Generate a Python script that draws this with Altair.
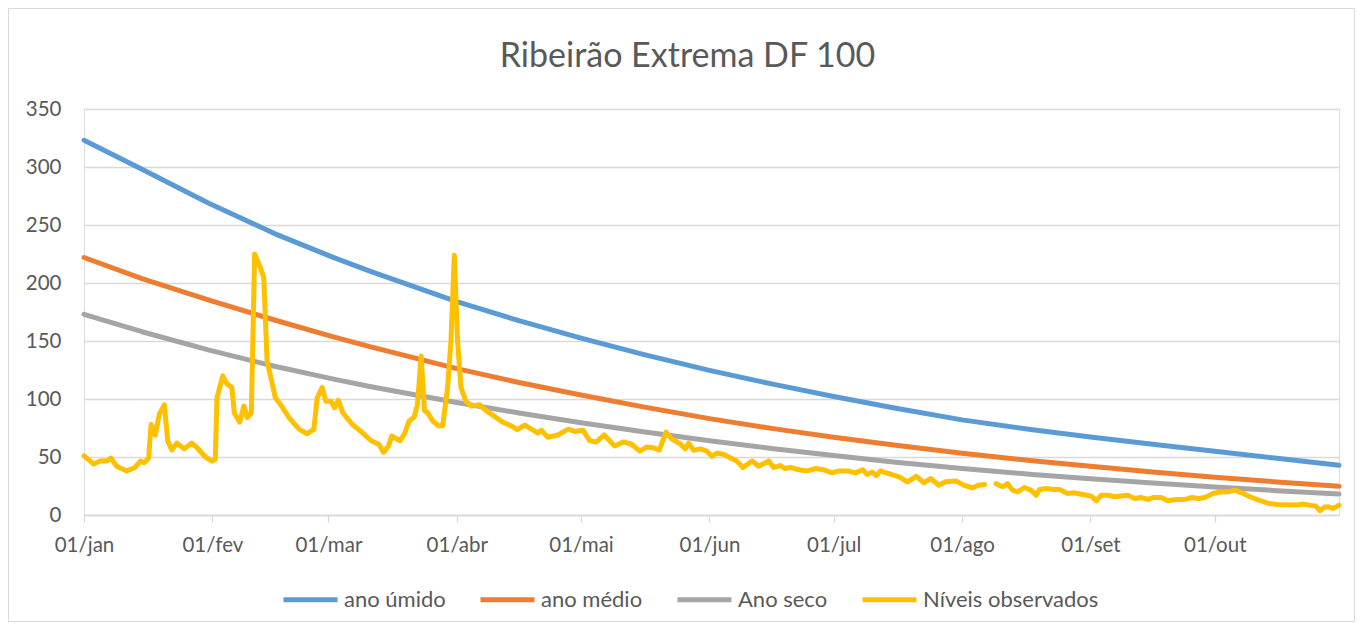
import json
import altair as alt
import pandas as pd

TITLE = "Ribeirão Extrema DF 100"
SERIES = ["ano úmido", "ano médio", "Ano seco", "Níveis observados"]
COLORS = ["#5B9BD5", "#ED7D31", "#A5A5A5", "#FFC000"]
MONTH_START_DAYS = [0, 31, 59, 90, 120, 151, 181, 212, 243, 273]
MONTH_LABELS = ["01/jan", "01/fev", "01/mar", "01/abr", "01/mai",
                "01/jun", "01/jul", "01/ago", "01/set", "01/out"]
LAST_DAY = 303
Y_TICKS = [0, 50, 100, 150, 200, 250, 300, 350]

# reference curves (day of year counted from 01/jan = 0)
curve_days = [0, 14, 30, 46, 60, 69, 90, 105, 120, 135, 151, 166, 181, 196,
              212, 229, 243, 258, 273, 288, 303]
ano_umido = [323, 298, 269, 242.6, 222.3, 210.2, 184, 167.5, 152.5, 138.5, 124.7,
             113, 102.2, 92, 82, 73.5, 67.2, 60.9, 54.9, 48.9, 42.9]
ano_medio = [222, 203.8, 185.4, 168.1, 153.8, 145.1, 126.2, 114.2, 103.4, 93.2, 83.1,
             74.7, 67.1, 60.1, 53.2, 46.7, 42, 37, 32.5, 28.5, 24.8]
ano_seco = [173, 158, 142.3, 128.2, 117.3, 110.8, 97, 88, 79.6, 71.8, 64,
            57.3, 51.2, 45.4, 40, 35, 31.2, 27.5, 24.2, 21, 18]

# observed levels (None = missing data)
obs_days = [0, 2.3, 3.9, 5.5, 6.5, 7.9, 10.3, 12.3, 13.6, 14.5, 15.6, 16.2, 17.2,
            18.2, 19.4, 20.2, 21.2, 22.4, 24.2, 26, 27.3, 29.3, 30.9, 31.7, 32.1,
            33.5, 34.5, 35.7, 36.3, 37.6, 38.6, 39.4, 40.4, 41.2, 42.5, 43.4,
            44.2, 46.2, 47.5, 49.5, 51.9, 53.9, 55.5, 56.3, 57.5, 58.4, 59.6,
            60.5, 61.4, 62.5, 64.8, 67.2, 69.3, 71.2, 72.3, 73.5, 74.3, 76.3,
            77.3, 78.5, 79.7, 80.5, 81.4, 82.2, 83, 84.2, 85.6, 86.6, 87.8, 88.6,
            89.4, 90.2, 91, 92.2, 93.5, 95.5, 97.1, 99.1, 101.1, 103.1, 104.6,
            106.4, 108, 109.6, 110.4, 112, 114.4, 116.9, 118.5, 120.5, 122.1,
            123.7, 125.6, 126.9, 128.1, 130.2, 132.2, 134.2, 135.8, 137.4, 138.9,
            140.5, 141.9, 143.9, 145.2, 146, 147.2, 148.8, 150.4, 151.6, 152.8,
            154.4, 156, 157.6, 159.1, 161.3, 162.9, 165.3, 166.5, 168.1, 169.3,
            170.5, 172.6, 174.6, 176.6, 178.6, 180.6, 182.2, 184.3, 186.3, 188,
            189.1, 190.3, 191.3, 192.3, 194.3, 196.8, 198.8, 201, 202.8, 204.4,
            206.4, 208, 210.5, 212.5, 214.5, 216.1, 217.4, 219,
            220.2, 221.8, 223, 224.2, 225.4, 227, 228.6, 229.9, 230.7, 232.3,
            233.9, 235.5, 237.5, 239.1, 241.1, 243.2, 244.4, 245.6, 247.2, 248.8,
            250.4, 252, 253.7, 255.3, 256.9, 258.1, 260.1, 261.7, 263.7, 265.8,
            267.4, 269, 270.6, 272.6, 274.6, 276.3, 277.9, 279.5, 281.5, 284,
            286, 288, 290.4, 292.9, 294.5, 296.1, 297.4, 298.4, 299.4, 300.4,
            301.5, 302.4, 303]
obs_values = [51, 44, 46.5, 46.5, 49, 42, 38, 41, 46.5, 45, 49, 78, 69,
              87, 95, 64, 56, 62, 57, 62, 58, 50, 46.5, 48, 101,
              120, 113, 110, 88, 80, 94, 84, 88, 225, 214, 204.6,
              133, 101, 95, 84, 74, 70, 74, 101, 110, 98, 98,
              92.5, 99, 88, 78, 71, 64, 61, 54, 59.5, 68, 64,
              69.5, 81, 84.5, 95, 137, 90, 88, 81, 77, 77, 110, 150,
              224, 150, 110, 98, 94, 95, 90, 85, 80, 77, 73.5,
              77.5, 74, 70.7, 73, 67, 69, 74, 72, 73, 64,
              63, 69, 64, 59.5, 63, 61, 55, 58.6, 58, 56,
              71.4, 65.7, 61.4, 57, 62, 55.7, 57, 55, 50.6, 53.4,
              52.3, 49.4, 46.6, 40.9, 46.6, 42, 46.6, 41, 42.6, 40,
              41, 39, 38, 40, 39, 36.3, 38, 38, 36.3, 39,
              35, 37, 34, 38, 35.7, 32.9, 28.6, 33.4, 27.7, 31.4,
              25.7, 28.6, 29.4, 25.5, 23.5, 25.7, 26.3, None,
              27, 24.3, 27, 21.4, 20, 23.7, 21.4, 17, 22, 22.9,
              22, 22, 18.6, 19.1, 17.7, 16.3, 12.3, 17, 17, 15.7,
              16.3, 17, 14.3, 15, 13.4, 15, 15, 12.3, 13.4, 13.4,
              15, 14.3, 15, 18.6, 20, 20, 21.4, 19.1, 15.7, 12.3,
              10, 9.1, 8.9, 8.6, 9.4, 8.3, 7.7, 3.7, 6.6, 7.1,
              5.7, 7.1, 8.6]

# ---- tables -------------------------------------------------------------
rows = []
for name, vals in zip(SERIES[:3], [ano_umido, ano_medio, ano_seco]):
    for d, v in zip(curve_days, vals):
        rows.append({"day": d, "value": v, "series": name, "seg": name})
curves = pd.DataFrame(rows)

orows = []
seg = 0
for d, v in zip(obs_days, obs_values):
    if v is None:
        seg += 1
        continue
    orows.append({"day": d, "value": v, "series": SERIES[3], "seg": f"obs{seg}"})
observed = pd.DataFrame(orows)

FONT = "Lato"
TEXT = "#595959"
GRID = "#D9D9D9"
W, H = 1255, 406
PAD = {"left": 76, "top": 101, "right": 16, "bottom": 107}
LINE_W = 5

label_expr = ("indexof(" + json.dumps(MONTH_START_DAYS) + ", datum.value) >= 0 ? "
              + json.dumps(MONTH_LABELS, ensure_ascii=False)
              + "[indexof(" + json.dumps(MONTH_START_DAYS) + ", datum.value)] : ''")

x_enc = alt.X(
    "day:Q",
    scale=alt.Scale(domain=[0, LAST_DAY], nice=False, zero=False),
    axis=alt.Axis(
        title=None, values=MONTH_START_DAYS, labelExpr=label_expr, grid=False,
        domainColor=GRID, domainWidth=1.3, tickColor=GRID, tickWidth=1.3, tickSize=7,
        labelFont=FONT, labelFontSize=20.5, labelColor=TEXT, labelPadding=13,
        labelFlush=False, labelOverlap=False,
    ),
)
y_enc = alt.Y(
    "value:Q",
    scale=alt.Scale(domain=[0, 350], nice=False),
    axis=alt.Axis(
        title=None, values=Y_TICKS, grid=True, gridColor=GRID, gridWidth=1.3,
        domain=False, ticks=False, tickSize=0, labelPadding=23,
        labelFont=FONT, labelFontSize=20.5, labelColor=TEXT,
    ),
)
color_enc = alt.Color(
    "series:N",
    scale=alt.Scale(domain=SERIES, range=COLORS),
    legend=alt.Legend(
        title=None, orient="none", legendX=197, legendY=461, direction="horizontal",
        symbolType="stroke", symbolSize=2916, symbolStrokeWidth=LINE_W,
        labelFont=FONT, labelFontSize=22, labelColor=TEXT, labelOffset=4,
        labelLimit=400, columnPadding=24, padding=0,
    ),
)

curve_layer = alt.Chart(curves).mark_line(
    strokeWidth=LINE_W, strokeCap="round", strokeJoin="round"
).encode(x=x_enc, y=y_enc, color=color_enc, detail="seg:N")

obs_layer = alt.Chart(observed).mark_line(
    strokeWidth=LINE_W, strokeCap="round", strokeJoin="round"
).encode(x=x_enc, y=y_enc, color=color_enc, detail="seg:N")

border = alt.Chart(alt.Data(values=[{"a": 1}])).mark_rect(
    fillOpacity=0, stroke=GRID, strokeWidth=1, clip=False
).encode(
    x=alt.value(-PAD["left"] + 0.5), x2=alt.value(W + PAD["right"] - 0.5),
    y=alt.value(-PAD["top"] + 0.5), y2=alt.value(H + PAD["bottom"] - 0.5),
)

title_mark = alt.Chart(alt.Data(values=[{"t": TITLE}])).mark_text(
    font=FONT, fontSize=34, color=TEXT, align="center", baseline="middle", clip=False
).encode(text="t:N", x=alt.value(603.5), y=alt.value(-52))

chart = alt.layer(border, curve_layer, obs_layer, title_mark).properties(
    width=W, height=H,
    autosize=alt.AutoSizeParams(type="none"),
    padding=PAD,
).configure_view(stroke=None).configure(background="white")

chart.save("out.html", embed_options={"renderer": "svg", "actions": False})
